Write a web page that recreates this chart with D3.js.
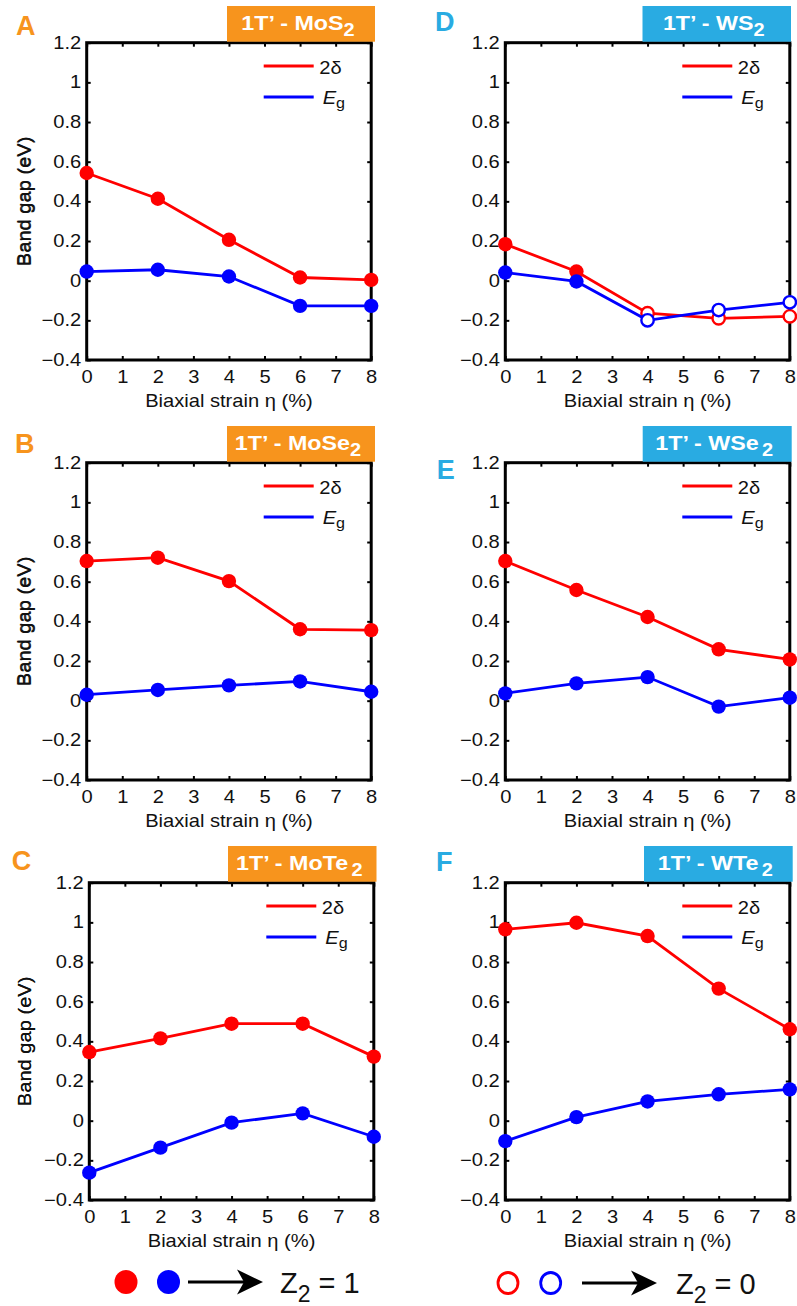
<!DOCTYPE html>
<html>
<head>
<meta charset="utf-8">
<script src="https://cdn.jsdelivr.net/npm/d3@7"></script>
<style>
  body { margin: 0; background: #fff; }
  svg { display: block; font-family: "Liberation Sans", Arial, Helvetica, sans-serif; }
</style>
</head>
<body>
<svg id="fig" width="797" height="1306"></svg>
<script>
// strain points (%) and tick labels
var strain = [0, 2, 4, 6, 8];
var xTicks = [0, 1, 2, 3, 4, 5, 6, 7, 8];
var yTicks = [-0.4, -0.2, 0, 0.2, 0.4, 0.6, 0.8, 1, 1.2];
var yTickLabels = ["\u22120.4", "\u22120.2", "0", "0.2", "0.4", "0.6", "0.8", "1", "1.2"];

// 2delta and Eg (eV)
var deltaMoS2  = [0.543, 0.413, 0.206, 0.016, 0.004];
var egMoS2     = [0.046, 0.055, 0.021, -0.127, -0.127];
var deltaMoSe2 = [0.704, 0.721, 0.603, 0.360, 0.356];
var egMoSe2    = [0.030, 0.054, 0.077, 0.097, 0.045];
var deltaMoTe2 = [0.346, 0.415, 0.489, 0.489, 0.323];
var egMoTe2    = [-0.262, -0.136, -0.010, 0.037, -0.081];
var deltaWS2   = [0.184, 0.046, -0.164, -0.190, -0.180];
var egWS2      = [0.041, -0.004, -0.200, -0.148, -0.109];
var deltaWSe2  = [0.704, 0.558, 0.422, 0.259, 0.208];
var egWSe2     = [0.037, 0.087, 0.119, -0.030, 0.015];
var deltaWTe2  = [0.965, 0.998, 0.931, 0.666, 0.461];
var egWTe2     = [-0.103, 0.018, 0.097, 0.133, 0.158];

// Z2 = 1 (filled) or Z2 = 0 (open) at each strain
var z2All1 = [1, 1, 1, 1, 1];
var z2WS2  = [1, 1, 0, 0, 0];

var panelLetters = ["A", "B", "C", "D", "E", "F"];
var materials = [["MoS", "2"], ["MoSe", "2"], ["MoTe", "2"], ["WS", "2"], ["WSe", "2"], ["WTe", "2"]];

var panels = [
  {delta: deltaMoS2,  eg: egMoS2,  z2: z2All1},
  {delta: deltaMoSe2, eg: egMoSe2, z2: z2All1},
  {delta: deltaMoTe2, eg: egMoTe2, z2: z2All1},
  {delta: deltaWS2,   eg: egWS2,   z2: z2WS2},
  {delta: deltaWSe2,  eg: egWSe2,  z2: z2All1},
  {delta: deltaWTe2,  eg: egWTe2,  z2: z2All1}
];

// layout
var ORANGE = "#F7941D", CYAN = "#29ABE2";
var RED = "#ff0000", BLUE = "#0000ff";
var STRETCH = 1.15;   // the figure's lettering is a bit wider than Arial
var plotW = 284.5, plotH = 317.3;
var plotLeft = [86.7, 86.7, 89.3, 505.3, 505.3, 505.3];
var plotTop  = [42.7, 462.7, 882.7, 42.7, 462.7, 882.7];
var boxX = [227, 227, 228, 642.5, 642.7, 644];
var boxW = [148, 148, 148.5, 148.5, 149, 148.7];
var letterX = [16, 15, 11.7, 435, 436.7, 436];
var letterY = [35, 453, 870, 31, 479, 871];
var subGap = [0, 0, 3, 0, 3, 3];

var svg = d3.select("#fig");

function wide(sel, tx, ty, extra) {
  sel.attr("transform", "translate(" + tx + "," + ty + ")" + (extra || "") + " scale(" + STRETCH + ",1)");
}

panels.forEach(function(p, i) {
  var L = plotLeft[i], T = plotTop[i];
  var col = i < 3 ? ORANGE : CYAN;
  var g = svg.append("g").attr("transform", "translate(" + L + "," + T + ")");

  var x = d3.scaleLinear().domain([0, 8]).range([0, plotW]);
  var y = d3.scaleLinear().domain([-0.4, 1.2]).range([plotH, 0]);

  // title box
  svg.append("rect")
    .attr("x", boxX[i]).attr("y", T - 36.7)
    .attr("width", boxW[i]).attr("height", 35.7)
    .attr("fill", col);
  var tt = svg.append("text")
    .attr("transform", "translate(" + (boxX[i] + boxW[i] / 2 - 3) + "," + (T - 12.7) + ") scale(1.11,1)")
    .attr("text-anchor", "middle")
    .attr("fill", "#fff").attr("font-weight", "bold").attr("font-size", 21);
  tt.append("tspan").text("1T\u2019 - " + materials[i][0]);
  tt.append("tspan").attr("dx", subGap[i]).attr("dy", 6).attr("font-size", 18).text(materials[i][1]);

  // panel letter
  svg.append("text")
    .attr("x", letterX[i]).attr("y", letterY[i])
    .attr("fill", col).attr("font-weight", "bold").attr("font-size", 27)
    .text(panelLetters[i]);

  // axes
  var ax = g.append("g").attr("transform", "translate(0," + plotH + ")")
    .call(d3.axisBottom(x).tickValues(xTicks).tickFormat(d3.format("d")).tickSizeInner(-4).tickSizeOuter(0).tickPadding(11));
  var ay = g.append("g")
    .call(d3.axisLeft(y).tickValues(yTicks).tickFormat(function(d, k) { return yTickLabels[k]; }).tickSizeInner(-4).tickSizeOuter(0).tickPadding(5.5));
  var axt = g.append("g")
    .call(d3.axisTop(x).tickValues(xTicks).tickFormat("").tickSizeInner(-4).tickSizeOuter(0));
  var ayr = g.append("g").attr("transform", "translate(" + plotW + ",0)")
    .call(d3.axisRight(y).tickValues(yTicks).tickFormat("").tickSizeInner(-4).tickSizeOuter(0));
  [ax, ay, axt, ayr].forEach(function(a) {
    a.select(".domain").remove();
    a.selectAll("line").attr("stroke", "#000").attr("stroke-width", 2);
    a.selectAll("text").attr("font-size", 17.5).attr("fill", "#111")
      .style("font-family", "'Liberation Sans', Arial, sans-serif")
      .attr("transform", "scale(" + STRETCH + ",1)");
  });
  // keep the right edge of y labels where it was after widening
  ay.selectAll("text").attr("x", -5.5 / STRETCH);

  g.append("rect").attr("width", plotW).attr("height", plotH)
    .attr("fill", "none").attr("stroke", "#000").attr("stroke-width", 3);

  // axis titles
  g.append("text")
    .call(wide, plotW / 2, plotH + 47)
    .attr("text-anchor", "middle").attr("font-size", 17.5).attr("fill", "#111")
    .text("Biaxial strain \u03b7 (%)");
  g.append("text")
    .call(wide, 30.5 - L, plotH / 2, " rotate(-90)")
    .attr("text-anchor", "middle").attr("font-size", 17.5).attr("fill", "#111")
    .text("Band gap (eV)");

  // legend
  g.append("line").attr("x1", 177).attr("x2", 227).attr("y1", 23.3).attr("y2", 23.3)
    .attr("stroke", RED).attr("stroke-width", 2.8);
  g.append("line").attr("x1", 177).attr("x2", 227).attr("y1", 54.3).attr("y2", 54.3)
    .attr("stroke", BLUE).attr("stroke-width", 2.8);
  g.append("text").call(wide, 232.5, 31).attr("font-size", 17.5).attr("fill", "#111").text("2\u03b4");
  var eg = g.append("text").call(wide, 236, 61.5).attr("font-size", 17.5).attr("fill", "#111");
  eg.append("tspan").attr("font-style", "italic").text("E");
  eg.append("tspan").attr("dy", 4).attr("font-size", 14).text("g");

  // series
  var line = d3.line().x(function(d) { return x(d[0]); }).y(function(d) { return y(d[1]); });
  [[p.delta, RED], [p.eg, BLUE]].forEach(function(s) {
    var pts = strain.map(function(v, k) { return [v, s[0][k], p.z2[k]]; });
    g.append("path").datum(pts).attr("d", line)
      .attr("fill", "none").attr("stroke", s[1]).attr("stroke-width", 2.8);
    g.selectAll(null).data(pts).enter().append("circle")
      .attr("cx", function(d) { return x(d[0]); })
      .attr("cy", function(d) { return y(d[1]); })
      .attr("r", function(d) { return d[2] ? 7.2 : 6.2; })
      .attr("fill", function(d) { return d[2] ? s[1] : "#fff"; })
      .attr("stroke", s[1])
      .attr("stroke-width", function(d) { return d[2] ? 0 : 2.4; });
  });
});

// Z2 key at the bottom
var keys = [
  {cx: 126, cy: 1282, filled: true, label: "1", arrowX: 188, arrowEnd: 263, textX: 280},
  {cx: 508, cy: 1283, filled: false, label: "0", arrowX: 582, arrowEnd: 657, textX: 676}
];
keys.forEach(function(k) {
  [RED, BLUE].forEach(function(c, j) {
    var cx = k.cx + j * (k.filled ? 42.5 : 42.7);
    if (k.filled) {
      svg.append("ellipse").attr("cx", cx).attr("cy", k.cy).attr("rx", 11.5).attr("ry", 12).attr("fill", c);
    } else {
      svg.append("ellipse").attr("cx", cx).attr("cy", k.cy).attr("rx", 10).attr("ry", 10.5)
        .attr("fill", "none").attr("stroke", c).attr("stroke-width", 2.8);
    }
  });
  svg.append("line").attr("x1", k.arrowX).attr("x2", k.arrowEnd - 15)
    .attr("y1", k.cy).attr("y2", k.cy).attr("stroke", "#000").attr("stroke-width", 3);
  var head = d3.path();
  head.moveTo(k.arrowEnd, k.cy);
  head.lineTo(k.arrowEnd - 26, k.cy - 12.5);
  head.lineTo(k.arrowEnd - 19, k.cy);
  head.lineTo(k.arrowEnd - 26, k.cy + 12.5);
  head.closePath();
  svg.append("path").attr("d", head.toString()).attr("fill", "#000");
  var t = svg.append("text").attr("x", k.textX).attr("y", k.cy + 10.5)
    .attr("font-size", 29).attr("fill", "#111");
  t.append("tspan").text("Z");
  t.append("tspan").attr("dy", 9).attr("font-size", 23).text("2");
  t.append("tspan").attr("dy", -9).text(" = " + k.label);
});
</script>
</body>
</html>
